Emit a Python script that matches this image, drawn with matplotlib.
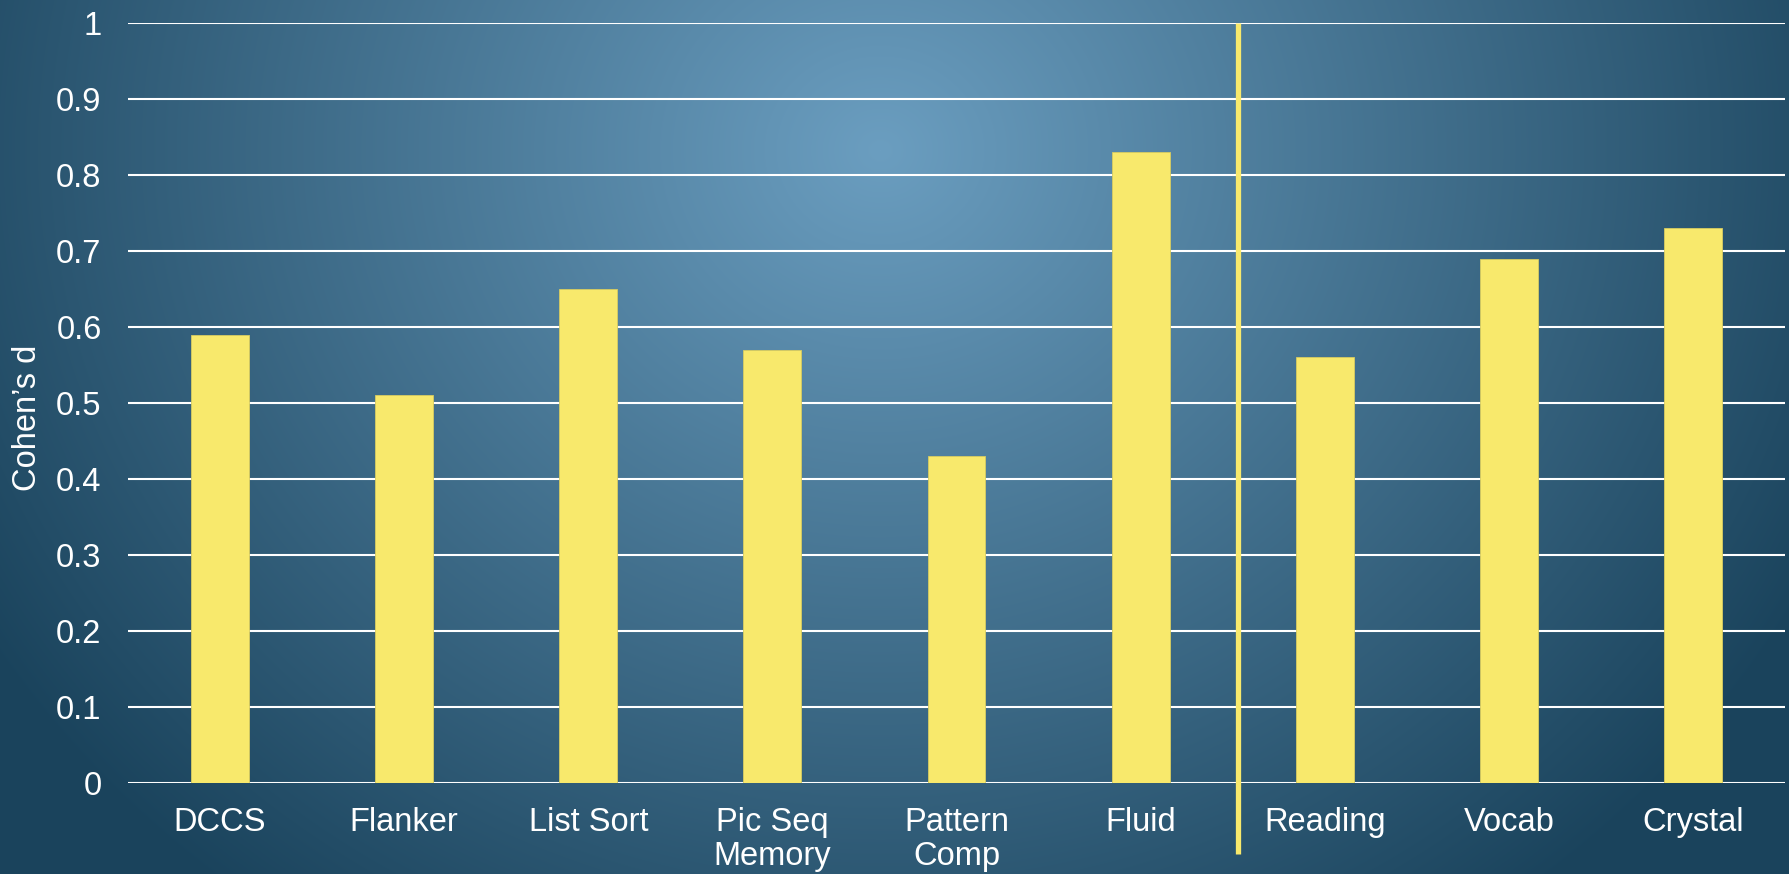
import numpy as np
import matplotlib.pyplot as plt
from matplotlib.colors import to_rgb

plt.rcParams['font.family'] = ['Liberation Sans', 'DejaVu Sans']

categories = ['DCCS', 'Flanker', 'List Sort', 'Pic Seq\nMemory', 'Pattern\nComp',
              'Fluid', 'Reading', 'Vocab', 'Crystal']
cohens_d = [0.59, 0.51, 0.65, 0.57, 0.43, 0.83, 0.56, 0.69, 0.73]
yticks = [0, 0.1, 0.2, 0.3, 0.4, 0.5, 0.6, 0.7, 0.8, 0.9, 1]
ytick_labels = ['0', '0.1', '0.2', '0.3', '0.4', '0.5', '0.6', '0.7', '0.8', '0.9', '1']
divider_x = 5.53

W, H = 1790, 874
fig = plt.figure(figsize=(W / 100, H / 100), dpi=100)

# radial gradient background
bg = fig.add_axes([0, 0, 1, 1], zorder=-10)
xx, yy = np.meshgrid(np.arange(W), np.arange(H))
t = np.sqrt(((xx - 880) / 1050.0) ** 2 + ((yy - 150) / 950.0) ** 2)
t = np.clip(t, 0, 1)[..., None]
c_in = np.array(to_rgb('#6b9ec0'))
c_out = np.array(to_rgb('#1a435c'))
img = c_in * (1 - t) + c_out * t
bg.imshow(img, aspect='auto', extent=[0, 1, 0, 1], origin='upper')
bg.axis('off')

ax = fig.add_axes([128 / W, 1 - 783 / H, (1785 - 128) / W, (783 - 23) / H])
ax.set_facecolor('none')
x = np.arange(len(categories))
ax.bar(x, cohens_d, width=0.315, color='#f8e96c', edgecolor='#d8cc60', linewidth=0.6, zorder=3)

ax.set_xlim(-0.5, len(categories) - 0.5)
ax.set_ylim(0, 1)
ax.set_yticks(yticks)
ax.set_yticklabels(ytick_labels)
ax.set_xticks(x)
ax.set_xticklabels(categories, linespacing=1.15)
ax.grid(axis='y', color='white', linewidth=1.5, zorder=1)
ax.set_axisbelow(True)
for s in ax.spines.values():
    s.set_visible(False)
ax.tick_params(axis='both', length=0, colors='white', labelsize=23.5)
ax.tick_params(axis='y', pad=19)
ax.tick_params(axis='x', pad=17)

ax.plot([divider_x, divider_x], [1.0, -0.093], color='#f8e96c', linewidth=3.8,
        solid_capstyle='butt', clip_on=False, zorder=4)

fig.text(28 / W, 1 - 418 / H, 'Cohen\u2019s d', rotation=90, color='white',
         fontsize=23.5, ha='center', va='center')

fig.savefig('out.png', dpi=100)
